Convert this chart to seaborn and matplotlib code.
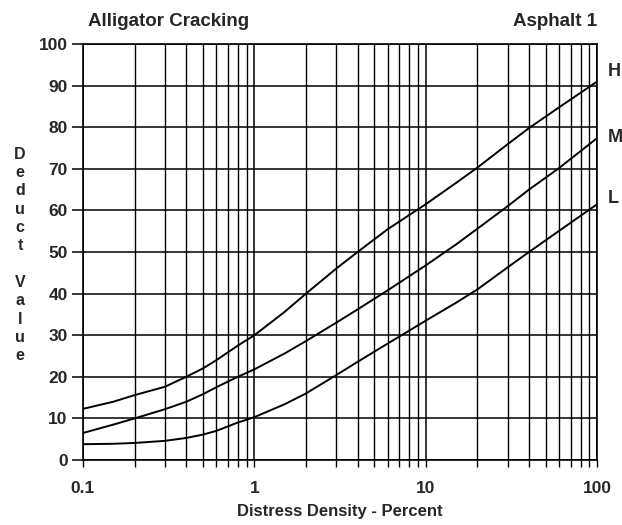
import numpy as np
import pandas as pd
import matplotlib
matplotlib.use("Agg")
import matplotlib.pyplot as plt
from matplotlib.ticker import LogLocator, FixedLocator, NullFormatter
import seaborn as sns

# Data
density = [0.1, 0.15, 0.2, 0.3, 0.4, 0.5, 0.6, 0.8, 1, 1.5, 2, 3, 4, 6, 10, 15, 20, 30, 40, 60, 100]
high    = [12.3, 14.0, 15.6, 17.6, 20.0, 22.0, 24.0, 27.5, 30.0, 35.6, 40.0, 46.0, 50.0, 55.5,
           61.5, 66.6, 70.3, 75.9, 79.8, 84.8, 91.0]
medium  = [6.5, 8.5, 10.0, 12.2, 14.0, 15.8, 17.5, 20.0, 21.8, 25.6, 28.6, 33.0, 36.2, 40.8,
           46.8, 51.8, 55.6, 61.0, 65.0, 70.2, 77.4]
low     = [3.8, 3.9, 4.1, 4.6, 5.3, 6.1, 7.0, 9.0, 10.3, 13.4, 16.0, 20.4, 23.6, 28.0,
           33.5, 37.8, 41.0, 46.3, 50.0, 55.1, 61.5]
severity = ["H", "M", "L"]
x_ticks = [0.1, 1, 10, 100]
x_tick_labels = ["0.1", "1", "10", "100"]
y_ticks = list(range(0, 101, 10))

df = pd.concat([
    pd.DataFrame({"density": density, "deduct": vals, "sev": s})
    for s, vals in zip(severity, [high, medium, low])
])

sns.set_theme(style="white")
plt.rcParams['font.family'] = ['Liberation Sans', 'DejaVu Sans']

fig = plt.figure(figsize=(6.22, 5.25), dpi=100)
ax = fig.add_axes([0.1334, 0.1238, 0.960 - 0.1334, 0.916 - 0.1238])

sns.lineplot(data=df, x="density", y="deduct", hue="sev", units="sev",
             estimator=None, palette={"H": "black", "M": "black", "L": "black"},
             linewidth=1.4, legend=False, ax=ax, sort=True)

ax.set_xscale("log")
ax.set_xlim(0.1, 100)
ax.set_ylim(0, 100)

ax.xaxis.set_major_locator(FixedLocator(x_ticks))
ax.set_xticklabels(x_tick_labels)
ax.xaxis.set_minor_locator(LogLocator(base=10, subs=np.arange(2, 10)))
ax.xaxis.set_minor_formatter(NullFormatter())
ax.set_yticks(y_ticks)

ax.grid(True, which="major", axis="both", color="black", linewidth=1.1)
ax.grid(True, which="minor", axis="x", color="black", linewidth=1.0)

for sp in ax.spines.values():
    sp.set_color("black")
    sp.set_linewidth(1.2)

ax.tick_params(axis="y", which="major", direction="out", length=8, width=1.1,
               color="black", left=True, labelsize=12.5, pad=3)
ax.tick_params(axis="x", which="both", direction="out", length=5, width=1.0,
               color="black", bottom=True, labelsize=12.5, pad=10)
for lbl in ax.get_xticklabels() + ax.get_yticklabels():
    lbl.set_fontweight("bold")

ax.set_xlabel("Distress Density - Percent", fontsize=12, fontweight="bold", labelpad=6)
ax.set_ylabel("")

fig.text(20 / 622, 1 - 255 / 525, "D\ne\nd\nu\nc\nt\n\nV\na\nl\nu\ne",
         ha="center", va="center", fontsize=11.5, fontweight="bold", linespacing=1.28)

fig.text(88 / 622, 1 - 22 / 525, "Alligator Cracking", ha="left", va="center",
         fontsize=13.5, fontweight="bold")
fig.text(597 / 622, 1 - 22 / 525, "Asphalt 1", ha="right", va="center",
         fontsize=13.5, fontweight="bold")

label_y_px = [72, 137, 198]
for s, ypx in zip(severity, label_y_px):
    fig.text(608 / 622, 1 - ypx / 525, s, ha="left", va="center",
             fontsize=13, fontweight="bold")

fig.savefig("out.png", dpi=100)
